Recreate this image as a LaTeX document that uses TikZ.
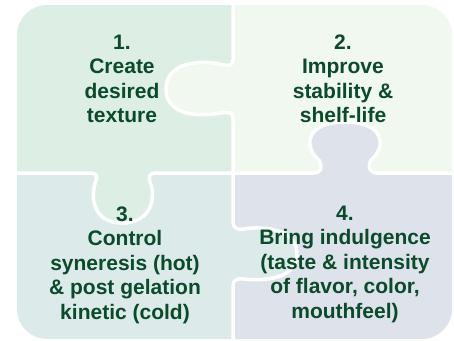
\documentclass[tikz,border=0pt]{standalone}
\usepackage{fontspec}
\setmainfont{Liberation Sans}
\definecolor{pieceone}{HTML}{DDEFE4}
\definecolor{piecetwo}{HTML}{F0F8EF}
\definecolor{piecethree}{HTML}{DCEBEA}
\definecolor{piecefour}{HTML}{DDE2EB}
\definecolor{leafgreen}{HTML}{0B4A2B}

\begin{document}
\begin{tikzpicture}[x=1pt, y=-1pt,
    seam/.style={white, line width=3.5pt, line join=round},
    piecetext/.style={text=leafgreen, align=center, font=\fontsize{21}{24.5}\selectfont\bfseries}]
    \useasboundingbox (0,0) rectangle (454,340);
    \begin{scope}
      \clip[rounded corners=30pt] (17,5) rectangle (452,339);
      % four quarters
      \fill[pieceone] (17,5) rectangle (233,173);
      \fill[piecetwo] (233,5) rectangle (452,173);
      \fill[piecethree] (17,173) rectangle (233,339);
      \fill[piecefour] (233,173) rectangle (452,339);
      % knobs
      \fill[piecetwo] (233,60) .. controls (233,66) and (228,66) .. (220,64) .. controls (200,60) and (166,62) .. (166,89) .. controls (166,116) and (200,117) .. (220,113) .. controls (228,112) and (233,112) .. (233,118) -- cycle;
      \fill[pieceone] (90,173) .. controls (96,173) and (98,176) .. (96,181) .. controls (90,195) and (92,223) .. (122,223) .. controls (152,223) and (156,197) .. (150,182) .. controls (148,176) and (150,173) .. (156,173) -- cycle;
      \fill[piecefour] (314,173) .. controls (321,173) and (323,167) .. (319,160) .. controls (304,148) and (304,122) .. (345,122) .. controls (386,122) and (386,148) .. (371,160) .. controls (367,167) and (370,173) .. (377,173) -- cycle;
      \fill[piecethree] (233,222) .. controls (233,228) and (237,230) .. (244,229) .. controls (262,226) and (297,228) .. (297,254) .. controls (297,280) and (262,281) .. (244,279) .. controls (237,278) and (233,280) .. (233,286) -- cycle;
      % seams
      \draw[seam] (233,0) -- (233,60) .. controls (233,66) and (228,66) .. (220,64) .. controls (200,60) and (166,62) .. (166,89) .. controls (166,116) and (200,117) .. (220,113) .. controls (228,112) and (233,112) .. (233,118) -- (233,173);
      \draw[seam] (0,173) -- (90,173) .. controls (96,173) and (98,176) .. (96,181) .. controls (90,195) and (92,223) .. (122,223) .. controls (152,223) and (156,197) .. (150,182) .. controls (148,176) and (150,173) .. (156,173) -- (233,173);
      \draw[seam] (233,173) -- (314,173) .. controls (321,173) and (323,167) .. (319,160) .. controls (304,148) and (304,122) .. (345,122) .. controls (386,122) and (386,148) .. (371,160) .. controls (367,167) and (370,173) .. (377,173) -- (454,173);
      \draw[seam] (233,173) -- (233,222) .. controls (233,228) and (237,230) .. (244,229) .. controls (262,226) and (297,228) .. (297,254) .. controls (297,280) and (262,281) .. (244,279) .. controls (237,278) and (233,280) .. (233,286) -- (233,340);
    \end{scope}
    \node[piecetext] (texture) at (122,79) {1.\\Create\\desired\\texture};
    \node[piecetext] (stability) at (343,79) {2.\\Improve\\stability \&\\shelf-life};
    \node[piecetext] (syneresis) at (125,265) {3.\\Control\\syneresis (hot)\\\& post gelation\\kinetic (cold)};
    \node[piecetext] (indulgence) at (345,264) {4.\\Bring indulgence\\(taste \& intensity\\of flavor, color,\\mouthfeel)};
  \end{tikzpicture}
\end{document}
